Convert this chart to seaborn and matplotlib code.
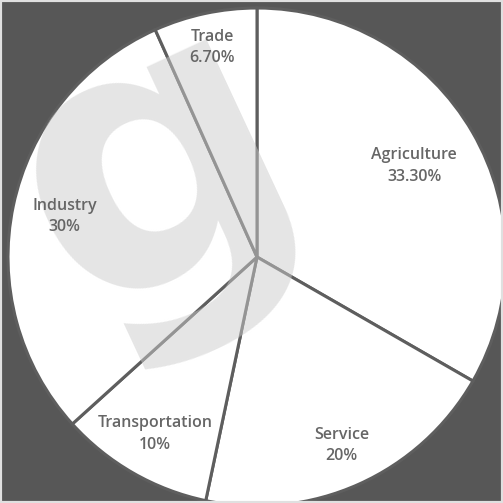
import numpy as np
import matplotlib
matplotlib.use("Agg")
import matplotlib.pyplot as plt
from matplotlib.patches import Rectangle
import seaborn as sns

# data
sectors = ['Agriculture', 'Service', 'Transportation', 'Industry', 'Trade']
shares = [33.3, 20, 10, 30, 6.7]
share_labels = ['33.30%', '20%', '10%', '30%', '6.70%']

# label distance per wedge (fraction of radius)
label_r = [0.73, 0.83, 0.82, 0.79, 0.86]

sns.set_style("white")
plt.rcParams['font.family'] = ['Open Sans', 'DejaVu Sans']

fig = plt.figure(figsize=(5.03, 5.03), dpi=100)
fig.patch.set_facecolor('#575757')
ax = fig.add_axes([0, 0, 1, 1])

wedges, _ = ax.pie(shares, startangle=90, counterclock=False, radius=1,
                   colors=['white'] * len(shares),
                   wedgeprops=dict(edgecolor='#5e5e5e', linewidth=2.2))

# faint watermark
ax.text(-0.41, 0.35, 'g', fontsize=270, color='#cccccc', alpha=0.5,
        family='DejaVu Sans', rotation=25, ha='center', va='center',
        fontweight='bold', zorder=3)

for w, name, lab, r in zip(wedges, sectors, share_labels, label_r):
    ang = np.deg2rad((w.theta1 + w.theta2) / 2)
    ax.text(r * np.cos(ang), r * np.sin(ang), f'{name}\n{lab}',
            ha='center', va='center', fontsize=11.5, color='#666666',
            fontweight='semibold', linespacing=1.45, zorder=5)

ax.set_xlim(-257 / 249, 246 / 249)
ax.set_ylim(-246 / 249, 257 / 249)
ax.set_aspect('auto')
ax.set_xticks([])
ax.set_yticks([])

# thin light frame round the picture
fig.patches.append(Rectangle((0, 0), 1, 1, transform=fig.transFigure,
                             fill=False, edgecolor='#e0e0e0', linewidth=3))

fig.savefig('out.png', dpi=100, facecolor=fig.get_facecolor())
